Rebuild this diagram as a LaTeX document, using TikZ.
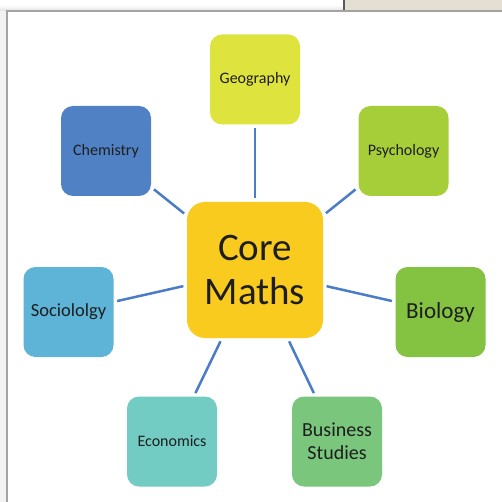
\documentclass[tikz,border=0pt]{standalone}
\usepackage{fontspec}
\setmainfont{Carlito}
\definecolor{cGeo}{HTML}{DFE33E}
\definecolor{cChem}{HTML}{5081C4}
\definecolor{cPsy}{HTML}{A6CE39}
\definecolor{cCore}{HTML}{FACB1F}
\definecolor{cSoc}{HTML}{5DB4D6}
\definecolor{cBio}{HTML}{84C341}
\definecolor{cEco}{HTML}{72CCC4}
\definecolor{cBus}{HTML}{7BC67D}
\definecolor{cLine}{HTML}{4A7CC8}
\definecolor{cTxt}{HTML}{1E1E1E}
\definecolor{cBeige}{HTML}{E4DED3}
\definecolor{cFrame}{HTML}{A3A3A3}
\begin{document}
\begin{tikzpicture}[x=1pt,y=-1pt,
  box/.style={rectangle, rounded corners=12pt, minimum width=90pt, minimum height=90pt,
    inner sep=2pt, text=cTxt, align=center},
  link/.style={cLine, line width=2.5pt, shorten <=3.5pt, shorten >=3.5pt}]
\useasboundingbox (0,0) rectangle (502,502);
% window background
\fill[black!5] (0,0) rectangle (502,502);
\fill[white] (0,0) rectangle (343,11);
\shade[top color=white, bottom color=black!12] (0,5) rectangle (343,11);
\fill[cBeige] (345,0) rectangle (502,11);
\draw[black!65, line width=1.5pt] (344,0) -- (344,11);
\fill[white] (7,11) rectangle (502,502);
\draw[cFrame, line width=1.3pt] (7,502) -- (7,11) -- (502,11);
% nodes
\node[box, fill=cCore, rounded corners=18pt, minimum width=136pt, minimum height=136pt,
  font=\fontsize{39}{44}\selectfont] (core) at (255,270) {Core\\Maths};
\node[box, fill=cGeo, font=\fontsize{16}{19}\selectfont] (geo) at (255,79.5) {Geography};
\node[box, fill=cChem, font=\fontsize{16}{19}\selectfont] (chem) at (106,151) {Chemistry};
\node[box, fill=cPsy, font=\fontsize{16}{19}\selectfont] (psy) at (403.5,151) {Psychology};
\node[box, fill=cSoc, font=\fontsize{18.5}{22}\selectfont] (soc) at (68.5,312) {Sociololgy};
\node[box, fill=cBio, font=\fontsize{23}{27}\selectfont] (bio) at (440.5,312) {Biology};
\node[box, fill=cEco, font=\fontsize{16}{19}\selectfont] (eco) at (172,441.5) {Economics};
\node[box, fill=cBus, font=\fontsize{20}{23}\selectfont] (bus) at (337,441.5) {Business\\Studies};
% connectors
\draw[link] (geo) -- (core);
\draw[link] (chem) -- (core);
\draw[link] (psy) -- (core);
\draw[link] (soc) -- (core);
\draw[link] (bio) -- (core);
\draw[link] (eco) -- (core);
\draw[link] (bus) -- (core);
\end{tikzpicture}
\end{document}
